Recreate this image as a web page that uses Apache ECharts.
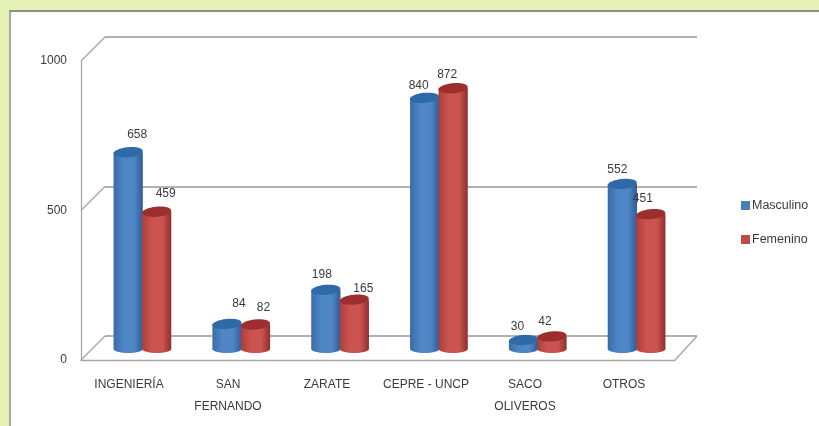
<!DOCTYPE html>
<html><head><meta charset="utf-8">
<style>
html,body{margin:0;padding:0;width:819px;height:426px;overflow:hidden;background:#e6f1b6}
#panel{position:absolute;left:9px;top:10px;width:830px;height:440px;background:#fff;border:2px solid #8d8d8d;border-left-color:#a6a6a6;border-top-width:2px}
#chart{position:absolute;left:0;top:0;width:819px;height:426px;filter:blur(0.45px)}
</style>
<script src="https://cdn.jsdelivr.net/npm/echarts@6/dist/echarts.min.js"></script>
</head><body><div id="panel"></div><div id="chart"></div>
<script>
const categories = ['INGENIERÍA', 'SAN\nFERNANDO', 'ZARATE', 'CEPRE - UNCP', 'SACO\nOLIVEROS', 'OTROS'];
const masculino = [658, 84, 198, 840, 30, 552];
const femenino = [459, 82, 165, 872, 42, 451];
const yTicks = [0, 500, 1000];

const chart = echarts.init(document.getElementById('chart'));
const labelNudgeM = [[9,-18],[12,-20],[-4,-15],[-6,-12],[-6,-13],[-5,-14]];
const labelNudgeF = [[9,-18],[8,-17],[9,-11],[-6,-14],[-7,-15],[-8,-15]];
const DEPTH = 24;

function cylinder(side, pal, nudges) {
  return function (params, api) {
    const i = api.value(0), v = api.value(1);
    const band = api.size([1, 0])[0];
    const top = api.coord([i, v]);
    const base = api.coord([i, 0]);
    const rx = band * 0.148, ry = 5;
    const cx = top[0] + side * band * 0.144;
    const grad = new echarts.graphic.LinearGradient(0, 0, 1, 0, [
      {offset: 0, color: pal[0]}, {offset: .35, color: pal[1]},
      {offset: .7, color: pal[1]}, {offset: 1, color: pal[2]}]);
    return {type: 'group', children: [
      {type: 'ellipse', shape: {cx: cx, cy: base[1], rx: rx, ry: 4}, style: {fill: grad}},
      {type: 'rect', shape: {x: cx - rx, y: top[1], width: rx * 2, height: base[1] - top[1]}, style: {fill: grad}},
      {type: 'ellipse', shape: {cx: cx, cy: top[1], rx: rx, ry: ry}, rotation: 0.09, originX: cx, originY: top[1], style: {fill: pal[3]}},
      {type: 'text', x: cx + nudges[i][0], y: top[1] + nudges[i][1], z2: 10, style: {
        text: String(v), fill: '#3a3a3a', font: '12px "Liberation Sans"', align: 'center', verticalAlign: 'middle'}}
    ]};
  };
}

function walls(params, api) {
  const v = api.value(0);
  const cs = params.coordSys;
  const y = api.coord([0, v])[1];
  const line = (x1, y1, x2, y2) => ({type: 'line', shape: {x1, y1, x2, y2}, style: {stroke: '#a3a3a3', lineWidth: 1.3}});
  const kids = [line(cs.x, y, cs.x + DEPTH, y - DEPTH)];
  if (v === yTicks[0]) kids.push(line(cs.x + cs.width, y, cs.x + cs.width + DEPTH - 2, y - DEPTH));
  return {type: 'group', children: kids};
}

const hiddenAxis = {axisLine: {show: false}, axisTick: {show: false}, axisLabel: {show: false}, splitLine: {show: false}};
const numAxis = {type: 'value', min: 0, max: 1000, interval: 500};

chart.setOption({
  animation: false,
  textStyle: {fontFamily: '"Liberation Sans"'},
  grid: [
    {left: 93, top: 50, width: 593, height: 299},
    {left: 105, top: 37, width: 592, height: 299},
    {left: 81, top: 61, width: 594, height: 299}
  ],
  xAxis: [
    Object.assign({type: 'category', data: categories, gridIndex: 0}, hiddenAxis),
    Object.assign({type: 'category', data: categories, gridIndex: 1}, hiddenAxis),
    {type: 'category', data: categories, gridIndex: 2, axisTick: {show: false},
     axisLine: {lineStyle: {color: '#a8a8a8', width: 1.3}},
     axisLabel: {color: '#3a3a3a', fontSize: 12, lineHeight: 22, margin: 14, interval: 0, padding: [0, 3, 0, 0]}}
  ],
  yAxis: [
    Object.assign({}, numAxis, hiddenAxis, {gridIndex: 0}),
    Object.assign({}, numAxis, hiddenAxis, {gridIndex: 1, splitLine: {show: true, lineStyle: {color: '#999999', width: 1.5}}}),
    Object.assign({}, numAxis, {gridIndex: 2, splitLine: {show: false}, axisTick: {show: false},
      axisLine: {show: true, lineStyle: {color: '#a8a8a8', width: 1.3}},
      axisLabel: {color: '#3a3a3a', fontSize: 12, margin: 14, formatter: v => String(v)}})
  ],
  legend: {
    orient: 'vertical', left: 736, top: 194, icon: 'rect', itemWidth: 9, itemHeight: 9, itemGap: 21,
    textStyle: {color: '#3a3a3a', fontSize: 12.5, padding: [0, 0, 0, -3]},
    data: ['Masculino', 'Femenino']
  },
  series: [
    {type: 'custom', name: 'walls', xAxisIndex: 2, yAxisIndex: 2, silent: true, z: 1,
     data: yTicks.map(t => [t]), encode: {y: 0}, renderItem: walls},
    {type: 'custom', name: 'Masculino', xAxisIndex: 0, yAxisIndex: 0, z: 3,
     itemStyle: {color: '#4a7ebb'}, encode: {x: 0, y: 1},
     data: masculino.map((v, i) => [i, v]),
     renderItem: cylinder(-1, ['#3a6ba8', '#4f86c6', '#2f5c96', '#2f6aa8'], labelNudgeM)},
    {type: 'custom', name: 'Femenino', xAxisIndex: 0, yAxisIndex: 0, z: 4,
     itemStyle: {color: '#be4b48'}, encode: {x: 0, y: 1},
     data: femenino.map((v, i) => [i, v]),
     renderItem: cylinder(1, ['#a83f3c', '#cc5450', '#8f2f2d', '#9c2f2e'], labelNudgeF)}
  ]
});
</script></body></html>
